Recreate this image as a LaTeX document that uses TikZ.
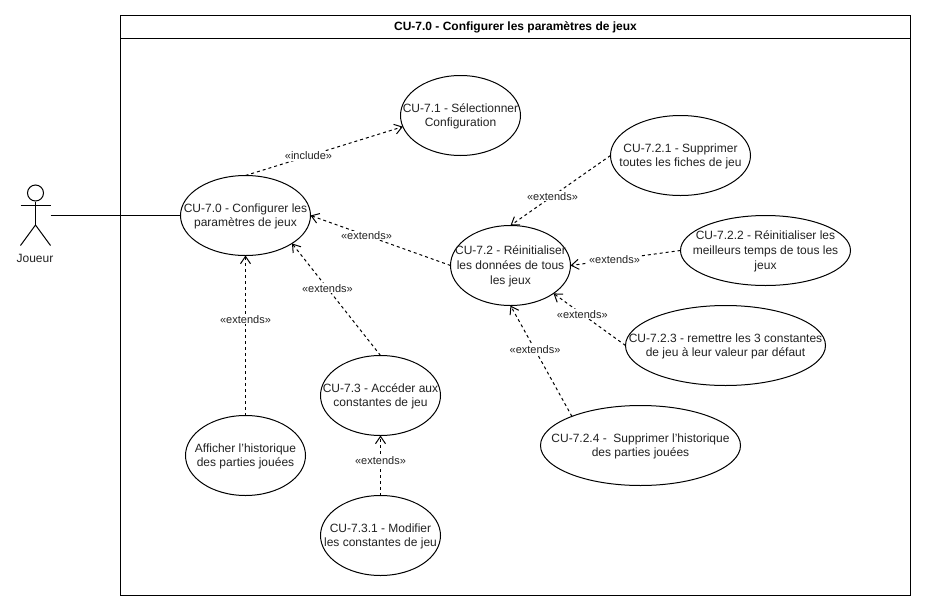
\documentclass[tikz,border=0pt]{standalone}
\usepackage{fontspec}
\setmainfont{Liberation Sans}
\usetikzlibrary{arrows.meta, shapes.geometric}
\definecolor{LabelGrey}{HTML}{222222}
\tikzset{
  % Box styles
  usecase/.style={ellipse, draw=black, fill=white, line width=0.75pt, inner sep=0pt, outer sep=0pt},
  casetext/.style={font=\fontsize{9}{11}\selectfont, text=LabelGrey, align=center, inner sep=0pt, yshift=-0.6pt},
  framebox/.style={rectangle, draw=black, line width=0.75pt, inner sep=0pt, outer sep=0pt},
  titletext/.style={font=\fontsize{9}{11}\selectfont\bfseries, text=black},
  edgelabel/.style={fill=white, inner sep=0.6pt, font=\fontsize{8.25}{10}\selectfont, text=LabelGrey},
  actorlabel/.style={font=\fontsize{9}{11}\selectfont, text=LabelGrey},
  % Arrow styles
  dashedarrow/.style={-{Straight Barb[length=5.5pt,width=7.5pt,line width=0.75pt]}, line width=0.75pt, dash pattern=on 2.25pt off 2.25pt},
  assoc/.style={line width=0.75pt},
  stickman/.style={line width=0.75pt}
}
\begin{document}
\begin{tikzpicture}[x=0.75pt, y=-0.75pt]
  \useasboundingbox (0,0) rectangle (926,611);
  \fill[white] (0,0) rectangle (926,611);

  % System frame
  \coordinate (frameTL) at (120.5,15.5);
  \node[framebox, minimum width=592.5pt, minimum height=435pt, anchor=north west] (frame) at (frameTL) {};
  \node[framebox, minimum width=592.5pt, minimum height=17.25pt, anchor=north west] (titlebar) at (frameTL) {};
  \node[titletext] (title) at (titlebar.center) {CU-7.0 - Configurer les paramètres de jeux};

  % Actor
  \node[circle, draw=black, line width=0.75pt, inner sep=0pt, minimum size=12pt] (head) at (35.5,193) {};
  \coordinate (hip) at (35.5,225);
  \coordinate (armL) at (20.5,205.5);
  \coordinate (armR) at (50.5,205.5);
  \coordinate (footL) at (20.5,245.5);
  \coordinate (footR) at (50.5,245.5);
  \draw[stickman] (head.south) -- (hip);
  \draw[stickman] (armL) -- (armR);
  \draw[stickman] (footL) -- (hip) -- (footR);
  \node[actorlabel] (joueur) at (35,258) {Joueur};
  \coordinate (actorHand) at (50.5,215.5);

  % Use cases
  \node[usecase, minimum width=97.5pt, minimum height=60pt, label={[casetext]center:{CU-7.0 - Configurer les\\paramètres de jeux}}] (cu70) at (245.5,215.5) {};
  \node[usecase, minimum width=90pt, minimum height=60pt, label={[casetext]center:{CU-7.1 - Sélectionner\\Configuration}}] (cu71) at (460.5,115.5) {};
  \node[usecase, minimum width=90pt, minimum height=60pt, label={[casetext]center:{CU-7.2 - Réinitialiser\\les données de tous\\les jeux}}] (cu72) at (510.5,265.5) {};
  \node[usecase, minimum width=105pt, minimum height=60pt, label={[casetext]center:{CU-7.2.1 - Supprimer\\toutes les fiches de jeu}}] (cu721) at (680.5,155.5) {};
  \node[usecase, minimum width=127.5pt, minimum height=52.5pt, label={[casetext]center:{CU-7.2.2 - Réinitialiser les\\meilleurs temps de tous les\\jeux}}] (cu722) at (765.5,250.5) {};
  \node[usecase, minimum width=150pt, minimum height=60pt, label={[casetext]center:{CU-7.2.3 - remettre les 3 constantes\\de jeu à leur valeur par défaut}}] (cu723) at (725.5,345.5) {};
  \node[usecase, minimum width=150pt, minimum height=60pt, label={[casetext]center:{CU-7.2.4 -~~Supprimer l'historique\\des parties jouées}}] (cu724) at (640.5,445.5) {};
  \node[usecase, minimum width=90pt, minimum height=60pt, label={[casetext]center:{CU-7.3 - Accéder aux\\constantes de jeu}}] (cu73) at (380.5,395.5) {};
  \node[usecase, minimum width=90pt, minimum height=60pt, label={[casetext]center:{CU-7.3.1 - Modifier\\les constantes de jeu}}] (cu731) at (380.5,535.5) {};
  \node[usecase, minimum width=90pt, minimum height=60pt, label={[casetext]center:{Afficher l'historique\\des parties jouées}}] (hist) at (245.5,455.5) {};

  % Arrows
  \draw[assoc] (actorHand) -- (cu70.west);
  \draw[dashedarrow] (cu70.north) -- node[edgelabel, pos=0.4] (lab1) {«include»} (cu71.191);
  \draw[dashedarrow] (cu72.west) -- node[edgelabel, pos=0.6] (lab2) {«extends»} (cu70.east);
  \draw[dashedarrow] (cu73.north) -- node[edgelabel, pos=0.6] (lab3) {«extends»} (cu70.-31);
  \draw[dashedarrow] (hist.north) -- node[edgelabel, pos=0.6] (lab4) {«extends»} (cu70.south);
  \draw[dashedarrow] (cu731.north) -- node[edgelabel, pos=0.58] (lab5) {«extends»} (cu73.south);
  \draw[dashedarrow] (cu721.west) -- node[edgelabel, pos=0.58] (lab6) {«extends»} (cu72.north);
  \draw[dashedarrow] (cu722.west) -- node[edgelabel, pos=0.6] (lab7) {«extends»} (cu72.east);
  \draw[dashedarrow] (cu723.west) -- node[edgelabel, pos=0.6] (lab8) {«extends»} (cu72.-33);
  \draw[dashedarrow] (cu724.157) -- node[edgelabel, pos=0.6] (lab9) {«extends»} (cu72.south);
\end{tikzpicture}
\end{document}
